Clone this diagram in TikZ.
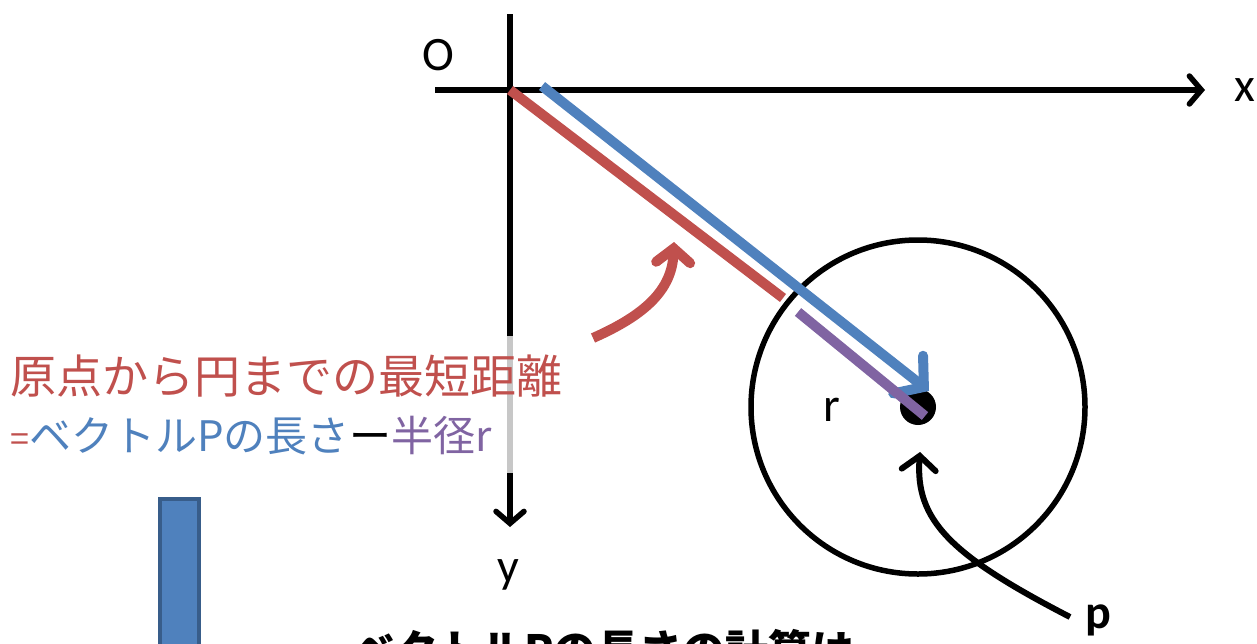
\documentclass[tikz,border=0pt]{standalone}
\usepackage{fontspec}
\setmainfont{Carlito}
\newfontfamily\jp{Noto Sans CJK JP}
\usetikzlibrary{arrows.meta}
\definecolor{cred}{HTML}{C0504D}
\definecolor{cblue}{HTML}{4F81BD}
\definecolor{cpurple}{HTML}{8064A2}
\definecolor{cdblue}{HTML}{385D8A}
\tikzset{
  axis/.style={line width=5.5pt, -{Straight Barb[length=12pt,width=28pt,line cap=round]}},
  lbl/.style={inner sep=0pt, font=\fontsize{48}{52}\selectfont},
  vec/.style={line width=10pt},
  curvy/.style={-{Straight Barb[length=14pt,width=34pt,line cap=round]}},
}
\begin{document}
\begin{tikzpicture}[x=1pt,y=-1pt]
\useasboundingbox (0,0) rectangle (1257,643);
% axes
\coordinate (xs) at (435,90);
\coordinate (xe) at (1205,90);
\coordinate (ys) at (510,14);
\coordinate (ye) at (510,527);
\coordinate (O) at (510,90);
\draw[axis] (xs) -- (xe);
\draw[axis] (ys) -- (ye);
\node[lbl] (lo) at (438,55) {O};
\node[lbl] (lx) at (1245,90) {x};
\node[lbl] (ly) at (508,575) {y};
% circle and point
\node[circle, draw, line width=5.5pt, minimum size=334pt, inner sep=0pt] (circ) at (918,407) {};
\node[circle, fill=black, minimum size=36pt, inner sep=0pt] (p) at (918,407) {};
% vectors
\coordinate (redend) at (783,298);
\draw[vec, cred] (O) -- (redend);
\coordinate (bs) at (542,86);
\coordinate (be) at (929,391);
\draw[vec, cblue, -{Straight Barb[length=20pt,width=48pt,line cap=round]}] (bs) -- (be);
\coordinate (ps) at (798,312);
\coordinate (pe) at (925,416);
\draw[vec, cpurple] (ps) -- (pe);
\node[lbl] (lr) at (832,410) {r};
% p label & arrow
\node[lbl, font=\bfseries\fontsize{48}{52}\selectfont] (lp) at (1098,620) {p};
\coordinate (pa) at (1070,617);
\coordinate (pb) at (920,452);
\draw[curvy, line width=6pt] (pa) .. controls (950,555) and (915,520) .. (pb);
% red curved arrow
\coordinate (ra) at (593,338);
\coordinate (rb) at (674,242);
\draw[curvy, cred, line width=10pt] (ra) .. controls (645,315) and (672,290) .. (rb);
% translucent text box
\fill[white, opacity=0.78] (0,336) rectangle (514,473);
\node[anchor=base west, inner sep=0pt, text=cred, font=\jp\fontsize{46}{50}\selectfont] (t1) at (10,393) {原点から円までの最短距離};
\node[anchor=base west, inner sep=0pt, font=\jp\fontsize{42}{46}\selectfont] (t2) at (10,451)
 {\textcolor{cred}{\fontsize{34}{38}\selectfont =}\textcolor{cblue}{ベクトルPの長さ}ー\textcolor{cpurple}{半径r}};
% blue bar
\draw[fill=cblue, draw=cdblue, line width=4pt] (160,499) rectangle (199,700);
\node[anchor=base west, inner sep=0pt, font=\jp\bfseries\fontsize{43}{47}\selectfont] (t3) at (352,666) {ベクトルPの長さの計算は};
\end{tikzpicture}
\end{document}
